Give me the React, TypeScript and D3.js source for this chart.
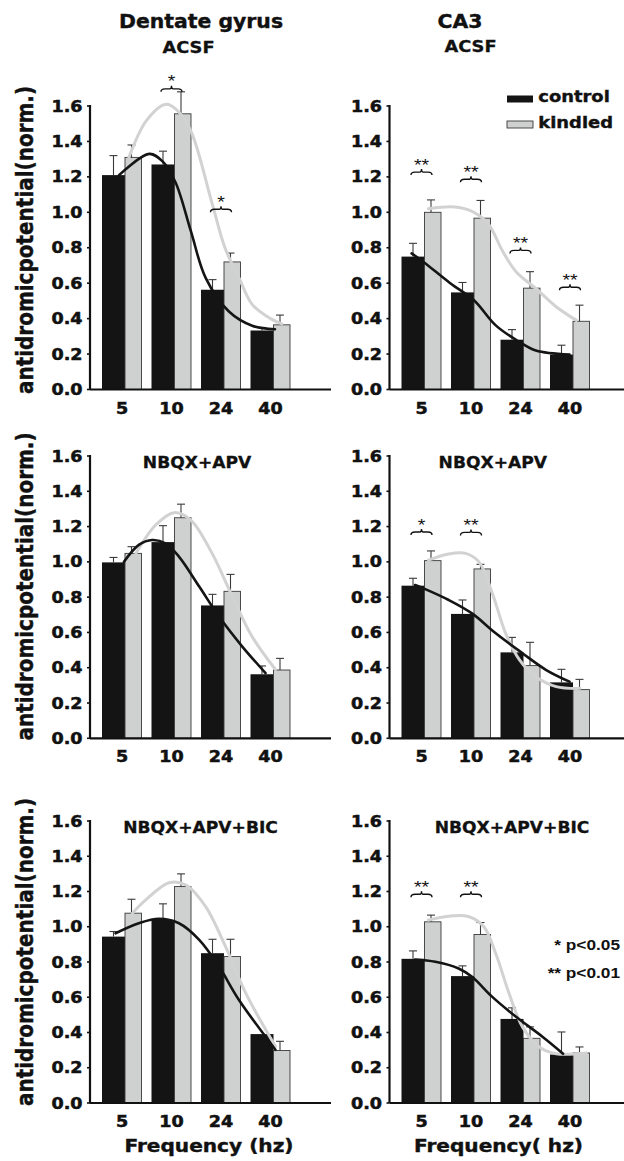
import React from 'react';
import * as d3 from 'd3';

// ---------- data ----------
const freqs = ['5', '10', '24', '40'];
const yTicks = [0, 0.2, 0.4, 0.6, 0.8, 1.0, 1.2, 1.4, 1.6];

// Dentate gyrus, ACSF
const dgAcsfControl = [1.21, 1.27, 0.563, 0.333];
const dgAcsfControlSem = [0.11, 0.075, 0.057, 0.017];
const dgAcsfKindled = [1.31, 1.556, 0.72, 0.365];
const dgAcsfKindledSem = [0.07, 0.124, 0.05, 0.055];
const dgAcsfControlFit: [number, number][] = [[-0.06, 1.21], [0.55, 1.33], [0.81, 1.29], [1.08, 1.17], [1.39, 0.895], [1.69, 0.63], [2.16, 0.44], [2.63, 0.36], [3.09, 0.34]];
const dgAcsfKindledFit: [number, number][] = [[0.14, 1.31], [0.5, 1.52], [0.89, 1.61], [1.1, 1.58], [1.39, 1.46], [1.82, 1.05], [2.08, 0.8], [2.38, 0.62], [2.63, 0.48], [3.0, 0.4], [3.23, 0.37]];
const dgAcsfSig = [{ freq: '10', level: 1.68, label: '*' }, { freq: '24', level: 1.0, label: '*' }];

// CA3, ACSF
const ca3AcsfControl = [0.75, 0.548, 0.281, 0.197];
const ca3AcsfControlSem = [0.075, 0.056, 0.057, 0.053];
const ca3AcsfKindled = [1.0, 0.967, 0.572, 0.385];
const ca3AcsfKindledSem = [0.07, 0.1, 0.093, 0.091];
const ca3AcsfControlFit: [number, number][] = [[-0.2, 0.768], [0.04, 0.72], [0.58, 0.6], [1.06, 0.504], [1.5, 0.362], [1.98, 0.268], [2.31, 0.22], [2.99, 0.197]];
const ca3AcsfKindledFit: [number, number][] = [[0.14, 1.02], [0.68, 1.03], [1.06, 1.0], [1.36, 0.93], [1.64, 0.78], [1.91, 0.665], [2.31, 0.57], [2.72, 0.467], [3.13, 0.39]];
const ca3AcsfSig = [{ freq: '5', level: 1.21, label: '**' }, { freq: '10', level: 1.17, label: '**' }, { freq: '24', level: 0.768, label: '**' }, { freq: '40', level: 0.56, label: '**' }];

// Dentate gyrus, NBQX+APV
const dgNbqxControl = [0.997, 1.112, 0.753, 0.363];
const dgNbqxControlSem = [0.028, 0.093, 0.063, 0.047];
const dgNbqxKindled = [1.048, 1.25, 0.833, 0.387];
const dgNbqxKindledSem = [0.038, 0.077, 0.096, 0.066];
const dgNbqxControlFit: [number, number][] = [[0.04, 1.0], [0.34, 1.096], [0.61, 1.124], [0.88, 1.105], [1.15, 1.03], [1.56, 0.86], [1.96, 0.69], [2.43, 0.52], [2.9, 0.37]];
const dgNbqxKindledFit: [number, number][] = [[0.28, 1.048], [0.68, 1.209], [1.05, 1.279], [1.39, 1.237], [1.82, 1.048], [2.23, 0.803], [2.63, 0.576], [3.1, 0.39]];
const dgNbqxSig: { freq: string; level: number; label: string }[] = [];

// CA3, NBQX+APV
const ca3NbqxControl = [0.865, 0.705, 0.487, 0.317];
const ca3NbqxControlSem = [0.042, 0.079, 0.085, 0.074];
const ca3NbqxKindled = [1.007, 0.96, 0.412, 0.276];
const ca3NbqxKindledSem = [0.055, 0.026, 0.132, 0.058];
const ca3NbqxControlFit: [number, number][] = [[-0.13, 0.869], [0.04, 0.85], [0.55, 0.784], [1.02, 0.708], [1.5, 0.595], [2.04, 0.482], [2.52, 0.387], [2.99, 0.321]];
const ca3NbqxKindledFit: [number, number][] = [[0.14, 1.01], [0.55, 1.045], [0.89, 1.048], [1.16, 1.0], [1.43, 0.822], [1.7, 0.595], [1.98, 0.444], [2.31, 0.349], [2.72, 0.293], [3.2, 0.283]];
const ca3NbqxSig = [{ freq: '5', level: 1.152, label: '*' }, { freq: '10', level: 1.15, label: '**' }];

// Dentate gyrus, NBQX+APV+BIC
const dgBicControl = [0.944, 1.039, 0.85, 0.391];
const dgBicControlSem = [0.029, 0.091, 0.079, 0];
const dgBicKindled = [1.077, 1.228, 0.831, 0.298];
const dgBicKindledSem = [0.079, 0.072, 0.098, 0.052];
const dgBicControlFit: [number, number][] = [[-0.13, 0.963], [0.34, 1.02], [0.75, 1.045], [1.15, 1.02], [1.56, 0.926], [1.96, 0.774], [2.36, 0.586], [3.1, 0.302]];
const dgBicKindledFit: [number, number][] = [[0.21, 1.077], [0.48, 1.152], [0.95, 1.25], [1.29, 1.237], [1.69, 1.114], [2.09, 0.888], [2.5, 0.623], [3.1, 0.321]];
const dgBicSig: { freq: string; level: number; label: string }[] = [];

// CA3, NBQX+APV+BIC
const ca3BicControl = [0.818, 0.72, 0.477, 0.275];
const ca3BicControlSem = [0.045, 0.058, 0.063, 0.128];
const ca3BicKindled = [1.028, 0.956, 0.367, 0.284];
const ca3BicKindledSem = [0.038, 0.068, 0.065, 0.034];
const ca3BicControlFit: [number, number][] = [[-0.13, 0.814], [0.28, 0.801], [0.75, 0.763], [1.02, 0.716], [1.43, 0.602], [1.91, 0.489], [2.45, 0.375], [2.86, 0.28]];
const ca3BicKindledFit: [number, number][] = [[0.14, 1.038], [0.55, 1.06], [0.96, 1.057], [1.26, 1.0], [1.5, 0.848], [1.77, 0.621], [2.04, 0.432], [2.38, 0.318], [2.72, 0.28], [3.33, 0.284]];
const ca3BicSig = [{ freq: '5', level: 1.167, label: '**' }, { freq: '10', level: 1.167, label: '**' }];

// ---------- layout ----------
const W = 624;
const H = 1161;
const HEAVY = '"DejaVu Sans", sans-serif';
const ARIAL = '"Liberation Sans", Arial, sans-serif';
const BLACK = '#141414';
const GRAY = '#cfd0d0';
const SX = 1.18;

type Sig = { freq: string; level: number; label: string };
type PanelDef = {
  col: number; row: number;
  control: number[]; controlSem: number[];
  kindled: number[]; kindledSem: number[];
  controlFit: [number, number][]; kindledFit: [number, number][];
  sig: Sig[];
  subtitle?: string;
};

const panels: PanelDef[] = [
  { col: 0, row: 0, control: dgAcsfControl, controlSem: dgAcsfControlSem, kindled: dgAcsfKindled, kindledSem: dgAcsfKindledSem, controlFit: dgAcsfControlFit, kindledFit: dgAcsfKindledFit, sig: dgAcsfSig },
  { col: 1, row: 0, control: ca3AcsfControl, controlSem: ca3AcsfControlSem, kindled: ca3AcsfKindled, kindledSem: ca3AcsfKindledSem, controlFit: ca3AcsfControlFit, kindledFit: ca3AcsfKindledFit, sig: ca3AcsfSig },
  { col: 0, row: 1, control: dgNbqxControl, controlSem: dgNbqxControlSem, kindled: dgNbqxKindled, kindledSem: dgNbqxKindledSem, controlFit: dgNbqxControlFit, kindledFit: dgNbqxKindledFit, sig: dgNbqxSig, subtitle: 'NBQX+APV' },
  { col: 1, row: 1, control: ca3NbqxControl, controlSem: ca3NbqxControlSem, kindled: ca3NbqxKindled, kindledSem: ca3NbqxKindledSem, controlFit: ca3NbqxControlFit, kindledFit: ca3NbqxKindledFit, sig: ca3NbqxSig, subtitle: 'NBQX+APV' },
  { col: 0, row: 2, control: dgBicControl, controlSem: dgBicControlSem, kindled: dgBicKindled, kindledSem: dgBicKindledSem, controlFit: dgBicControlFit, kindledFit: dgBicKindledFit, sig: dgBicSig, subtitle: 'NBQX+APV+BIC' },
  { col: 1, row: 2, control: ca3BicControl, controlSem: ca3BicControlSem, kindled: ca3BicKindled, kindledSem: ca3BicKindledSem, controlFit: ca3BicControlFit, kindledFit: ca3BicKindledFit, sig: ca3BicSig, subtitle: 'NBQX+APV+BIC' },
];

const colAxisX = [90, 389.5];
const colAxisLen = [241, 236];
const colSubtitleX = [[197, 200.5], [492.8, 512]];
const rowY = [
  { top: 106, bottom: 389.5 },
  { top: 456, bottom: 738.3 },
  { top: 821, bottom: 1103 },
];

function Txt(props: {
  x: number; y: number; size: number; family?: string; weight?: string | number;
  anchor?: string; sx?: number; rotate?: number; fill?: string; stroke?: number; children: React.ReactNode;
}) {
  const { x, y, size, family = HEAVY, weight = 'bold', anchor = 'middle', sx = SX, rotate, fill = '#111', stroke = 0, children } = props;
  const tr = `translate(${x},${y}) scale(${sx},1)` + (rotate ? ` rotate(${rotate})` : '');
  return (
    <text transform={tr} fontFamily={family} fontWeight={weight} fontSize={size} textAnchor={anchor} fill={fill}
      stroke={stroke > 0 ? fill : 'none'} strokeWidth={stroke}>
      {children}
    </text>
  );
}

function bracePath(cx: number, y0: number, w: number, h: number) {
  const x1 = cx - w / 2;
  const x2 = cx + w / 2;
  const m = y0 - h / 2;
  return [
    `M${x1},${y0}`,
    `C${x1},${m} ${x1 + 2},${m} ${x1 + 4},${m}`,
    `L${cx - 3},${m}`,
    `C${cx - 1},${m} ${cx},${m} ${cx},${y0 - h}`,
    `C${cx},${m} ${cx + 1},${m} ${cx + 3},${m}`,
    `L${x2 - 4},${m}`,
    `C${x2 - 2},${m} ${x2},${m} ${x2},${y0}`,
  ].join(' ');
}

function Panel({ p }: { p: PanelDef }) {
  const ax = colAxisX[p.col];
  const { top, bottom } = rowY[p.row];
  const y = d3.scaleLinear().domain([0, 1.6]).range([bottom, top]);
  const step = 49.5;
  const xc = d3.scalePoint<string>().domain(freqs).range([ax + 32, ax + 32 + 3 * step]);
  const xt = d3.scaleLinear().domain([0, 3]).range([ax + 32, ax + 32 + 3 * step]);
  const line = d3.line<[number, number]>().x(d => xt(d[0])).y(d => y(d[1])).curve(d3.curveCatmullRom.alpha(0.5));
  const fmt = d3.format('.1f');
  const bw = 23;
  const gw = 16.5;
  const subX = colSubtitleX[p.col][p.row === 2 ? 1 : 0];

  return (
    <g>
      {/* bars */}
      {freqs.map((f, i) => {
        const c = xc(f) as number;
        const bx = c - 20;
        const gx = c + 3;
        return (
          <g key={f}>
            <rect x={bx} y={y(p.control[i])} width={bw} height={y(0) - y(p.control[i])} fill={BLACK} />
            <rect x={gx} y={y(p.kindled[i])} width={gw} height={y(0) - y(p.kindled[i])} fill={GRAY} stroke="#3a3a3a" strokeWidth={0.9} />
          </g>
        );
      })}
      {/* error bars */}
      {freqs.map((f, i) => {
        const c = xc(f) as number;
        const ex1 = c - 20 + bw / 2;
        const ex2 = c + 3 + 6.5;
        const e1 = p.control[i] + p.controlSem[i];
        const e2 = p.kindled[i] + p.kindledSem[i];
        return (
          <g key={'e' + f} stroke="#3a3a3a" strokeWidth={1.1}>
            {p.controlSem[i] > 0 && (
              <>
                <line x1={ex1} x2={ex1} y1={y(p.control[i])} y2={y(e1)} />
                <line x1={ex1 - 4} x2={ex1 + 4} y1={y(e1)} y2={y(e1)} />
              </>
            )}
            {p.kindledSem[i] > 0 && (
              <>
                <line x1={ex2} x2={ex2} y1={y(p.kindled[i])} y2={y(e2)} />
                <line x1={ex2 - 4} x2={ex2 + 4} y1={y(e2)} y2={y(e2)} />
              </>
            )}
          </g>
        );
      })}
      {/* fit curves */}
      <path d={line(p.kindledFit) || ''} fill="none" stroke="#d2d2d2" strokeWidth={3} strokeLinecap="round" />
      <path d={line(p.controlFit) || ''} fill="none" stroke={BLACK} strokeWidth={2.6} strokeLinecap="round" />
      {/* significance */}
      {p.sig.map((s, i) => {
        const c = xc(s.freq) as number;
        const y0 = y(s.level);
        return (
          <g key={'s' + i}>
            <path d={bracePath(c, y0, 21, 6)} fill="none" stroke="#111" strokeWidth={1.4} />
            <Txt x={c} y={y0 - 4.5} size={17} family={ARIAL} weight="normal" sx={1.15}>{s.label}</Txt>
          </g>
        );
      })}
      {/* axes */}
      <line x1={ax} x2={ax} y1={y(1.6) - 1} y2={y(0)} stroke="#111" strokeWidth={2.2} />
      <line x1={ax} x2={ax + colAxisLen[p.col]} y1={y(0)} y2={y(0)} stroke="#111" strokeWidth={2.2} />
      {yTicks.map(t => (
        <g key={'t' + t}>
          <line x1={ax - 3} x2={ax} y1={y(t)} y2={y(t)} stroke="#111" strokeWidth={1.6} />
          <Txt x={ax - 7.5} y={y(t) + 5.5} size={15} anchor="end" sx={1.17} stroke={0.5}>{fmt(t)}</Txt>
        </g>
      ))}
      {freqs.map(f => (
        <Txt key={'x' + f} x={xc(f) as number} y={y(0) + 24} size={15} sx={1.17} stroke={0.5}>{f}</Txt>
      ))}
      {p.subtitle && (
        <Txt x={subX} y={top + 11.5} size={16} sx={1.07} stroke={0.3}>{p.subtitle}</Txt>
      )}
    </g>
  );
}

export default function App() {
  return (
    <svg width={W} height={H} style={{ position: 'absolute', left: 0, top: 0, background: '#fff' }}>
      <rect x={0} y={0} width={W} height={H} fill="#fff" />
      {/* column titles */}
      <Txt x={201} y={27.5} size={20} sx={1.02} stroke={0.4}>Dentate gyrus</Txt>
      <Txt x={188.5} y={53.3} size={16.5} sx={1.08} stroke={0.3}>ACSF</Txt>
      <Txt x={460} y={28.3} size={20} sx={1.02} stroke={0.4}>CA3</Txt>
      <Txt x={470.5} y={51.7} size={16.5} sx={1.08} stroke={0.3}>ACSF</Txt>

      {panels.map((p, i) => <Panel key={i} p={p} />)}

      {/* y-axis labels */}
      {[240, 586.5, 952].map((cy, i) => (
        <Txt key={'yl' + i} x={33} y={cy} size={20} rotate={-90} stroke={0.4}>antidromicpotential(norm.)</Txt>
      ))}

      {/* x-axis titles */}
      <Txt x={209} y={1152} size={17.5} sx={1.15} stroke={0.4}>Frequency (hz)</Txt>
      <Txt x={498.5} y={1152} size={17.5} sx={1.15} stroke={0.4}>Frequency( hz)</Txt>

      {/* legend */}
      <rect x={507} y={95.5} width={26} height={7} fill={BLACK} />
      <Txt x={538.3} y={102.3} size={16} anchor="start" sx={1.12} stroke={0.4}>control</Txt>
      <rect x={507} y={121} width={26} height={7} fill={GRAY} stroke="#3a3a3a" strokeWidth={0.9} />
      <Txt x={538.3} y={128.3} size={16} anchor="start" sx={1.12} stroke={0.4}>kindled</Txt>

      {/* p-value key */}
      <Txt x={620} y={950} size={15} family={ARIAL} anchor="end" sx={1.15}>* p&lt;0.05</Txt>
      <Txt x={620} y={978} size={15} family={ARIAL} anchor="end" sx={1.15}>** p&lt;0.01</Txt>
    </svg>
  );
}
